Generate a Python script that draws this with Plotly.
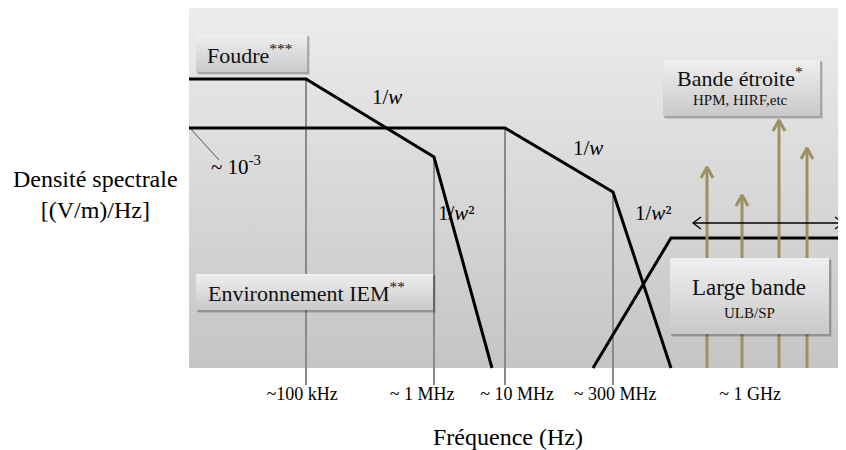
import plotly.graph_objects as go

# Schematic units (about 1 px each): x = 0 at the left edge of the shaded panel,
# y = 0 at its bottom edge.
panel_x = [0, 657]
panel_y = [0, 360]
axis_floor = -17

# frequency guide lines
guide_x = [117, 245, 316, 424]
guide_top = [290, 211, 240, 176]

tick_pos = [113, 233, 328, 426, 561]
tick_text = ["~100 kHz", "~ 1 MHz", "~ 10 MHz", "~ 300 MHz", "~ 1 GHz"]

# spectral envelopes
foudre_x = [0, 117, 245, 303]
foudre_y = [289, 289, 211, 0]
iem_x = [0, 316, 424, 482]
iem_y = [240, 240, 176, 0]
large_x = [404, 482, 657]
large_y = [0, 130, 130]

# narrow band lines (arrows)
narrow_x = [518, 553, 590, 618]
narrow_tip = [201, 173, 248, 220]

# wide band span arrow
span_x = [504, 654]
span_y = 145

# ~10^-3 pointer
pointer_x = [1, 30]
pointer_y = [240, 208]

slope_text = ["1/<i>w</i>", "1/<i>w</i>", "1/<i>w</i>²", "1/<i>w</i>²"]
slope_x = [198, 399, 267, 464]
slope_y = [271, 220, 155, 155]

box_x0 = [7, 7, 474, 481]
box_x1 = [118, 244, 631, 640]
box_y0 = [296, 58, 252, 34]
box_y1 = [333, 94, 308, 110]

SERIF = "Liberation Serif"
OLIVE = "#9b9162"

fig = go.Figure()

# shaded panel
fig.add_trace(go.Scatter(
    x=[panel_x[0], panel_x[1], panel_x[1], panel_x[0], panel_x[0]],
    y=[panel_y[0], panel_y[0], panel_y[1], panel_y[1], panel_y[0]],
    mode="lines", line=dict(width=0), fill="toself",
    fillgradient=dict(type="vertical", colorscale=[[0, "#c5c5c5"], [1, "#ececec"]]),
))

# guide lines
gx, gy = [], []
for x, top in zip(guide_x, guide_top):
    gx += [x, x, None]
    gy += [top, axis_floor, None]
fig.add_trace(go.Scatter(x=gx, y=gy, mode="lines", line=dict(color="#8a8a8a", width=2)))

fig.add_trace(go.Scatter(x=pointer_x, y=pointer_y, mode="lines",
                         line=dict(color="#555555", width=1)))

for xs, ys in [(foudre_x, foudre_y), (iem_x, iem_y), (large_x, large_y)]:
    fig.add_trace(go.Scatter(x=xs, y=ys, mode="lines",
                             line=dict(color="black", width=3)))

# narrow band arrows with open heads
ax, ay = [], []
for x, tip in zip(narrow_x, narrow_tip):
    ax += [x, x, None, x - 6, x, x + 6, None]
    ay += [0, tip, None, tip - 11, tip, tip - 11, None]
fig.add_trace(go.Scatter(x=ax, y=ay, mode="lines",
                         line=dict(color=OLIVE, width=3)))

# double-headed span arrow
sx = [span_x[0], span_x[1], None,
      span_x[0] + 8, span_x[0], span_x[0] + 8, None,
      span_x[1] - 8, span_x[1], span_x[1] - 8]
sy = [span_y, span_y, None,
      span_y + 6, span_y, span_y - 6, None,
      span_y + 6, span_y, span_y - 6]
fig.add_trace(go.Scatter(x=sx, y=sy, mode="lines",
                         line=dict(color="black", width=1.3)))

# label boxes with shadow
for x0, x1, y0, y1 in zip(box_x0, box_x1, box_y0, box_y1):
    for off, alpha in [(3, 0.10), (2, 0.18)]:
        fig.add_trace(go.Scatter(
            x=[x0 + off - 1, x1 + off, x1 + off, x0 + off - 1, x0 + off - 1],
            y=[y0 - off, y0 - off, y1 - off + 1, y1 - off + 1, y0 - off],
            mode="lines", line=dict(width=0), fill="toself",
            fillcolor=f"rgba(0,0,0,{alpha})",
        ))
    fig.add_trace(go.Scatter(
        x=[x0, x1, x1, x0, x0], y=[y0, y0, y1, y1, y0],
        mode="lines", line=dict(width=0), fill="toself",
        fillgradient=dict(type="vertical", colorscale=[[0, "#c9c9c9"], [1, "#efefef"]]),
    ))

box_labels = [
    ("Foudre<sup>***</sup>", 60, 314, 22),
    ("Environnement IEM<sup>**</sup>", 117, 76, 22),
    ("Bande étroite<sup>*</sup>", 551, 291, 22),
    ("HPM, HIRF,etc", 551, 268, 15),
    ("Large bande", 560, 81, 23),
    ("ULB/SP", 560, 55, 15),
]
for txt, x, y, size in box_labels:
    fig.add_annotation(x=x, y=y, text=txt, showarrow=False,
                       font=dict(family=SERIF, size=size, color="#111111"))

for txt, x, y in zip(slope_text, slope_x, slope_y):
    fig.add_annotation(x=x, y=y, text=txt, showarrow=False,
                       font=dict(family=SERIF, size=21, color="black"))

fig.add_annotation(x=47, y=203, text="~ 10<sup>-3</sup>", showarrow=False,
                   font=dict(family=SERIF, size=21, color="black"))

fig.add_annotation(xref="paper", yref="paper", x=-0.143, y=0.504,
                   xanchor="center", yanchor="middle",
                   text="Densité spectrale<br>[(V/m)/Hz]", showarrow=False,
                   font=dict(family=SERIF, size=24, color="black"))

fig.add_annotation(xref="paper", yref="paper", x=0.486, y=-0.138,
                   xanchor="center", yanchor="middle",
                   text="Fréquence (Hz)", showarrow=False,
                   font=dict(family=SERIF, size=24, color="black"))

# the page body adds an 8 px margin, so the figure is sized to the visible area
fig.update_layout(
    width=838, height=442,
    margin=dict(l=181, r=0, t=0, b=65),
    paper_bgcolor="white", plot_bgcolor="white",
    showlegend=False, hovermode=False,
    xaxis=dict(range=panel_x, showgrid=False, zeroline=False, showline=False,
               tickvals=tick_pos, ticktext=tick_text, ticks="",
               ticklabelstandoff=-4,
               tickfont=dict(family=SERIF, size=18, color="black")),
    yaxis=dict(range=[axis_floor, panel_y[1]], visible=False),
)

fig.write_html("out.html")
